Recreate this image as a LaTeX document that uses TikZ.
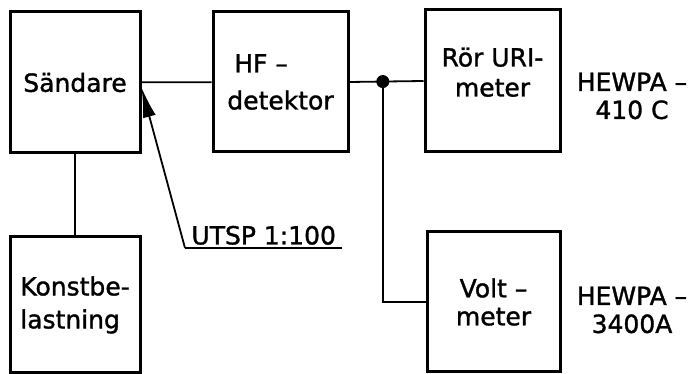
\documentclass[tikz,border=0pt]{standalone}
\usepackage{fontspec}
\setmainfont{DejaVu Sans}[RawFeature={embolden=1.3}]
\usetikzlibrary{arrows.meta, positioning}

\tikzset{
  unit/.style={draw, line width=3pt, minimum width=130pt, minimum height=140pt, inner sep=0pt},
  wire/.style={line width=1.8pt},
}

\begin{document}
\begin{tikzpicture}[x=1pt, y=1pt, font=\fontsize{25}{28}\selectfont]
	\useasboundingbox (0,0) rectangle (700,374);
	% Blocks:
	\node[unit, minimum height=141pt] (saendare) at (75, 291.5) {Sändare};
	\node[unit, minimum height=136pt, align=left] (konst) at (75, 69) {Konstbe-\\[5pt]lastning};
	\node[unit, minimum width=135pt, align=left] (hf) at (280.5, 292) {\hspace{7pt}HF –\\[9pt]detektor};
	\node[unit, minimum width=135pt, minimum height=142pt, align=center] (roer) at (492.5, 293) {Rör URI-\\[2pt]meter\\[-10pt]};
	\node[unit, minimum width=133pt, align=center] (volt) at (493.5, 72) {Volt –\\meter};
	% Labels:
	\node[align=center] (hewpaA) at (632, 278) {HEWPA –\\410 C};
	\node[align=center] (hewpaB) at (632, 64) {HEWPA –\\3400A};
	\node[anchor=south west, minimum width=157pt, inner ysep=3pt] (utsp) at (185, 126) {UTSP 1:100};
	% Wires:
	\draw[wire] (saendare) -- (konst);
	\draw[wire] (saendare) -- (hf);
	\draw[wire] (hf.east) -- (roer.west) coordinate[pos=0.45] (split);
	\fill (split) circle (6.5pt);
	\draw[wire] (split) |- (volt.west);
	\draw[wire] (utsp.south east) -- (utsp.south west);
	\draw[wire, -{Latex[length=30pt, width=13pt]}] (utsp.south west) -- ([yshift=-5pt]saendare.east);
\end{tikzpicture}
\end{document}
